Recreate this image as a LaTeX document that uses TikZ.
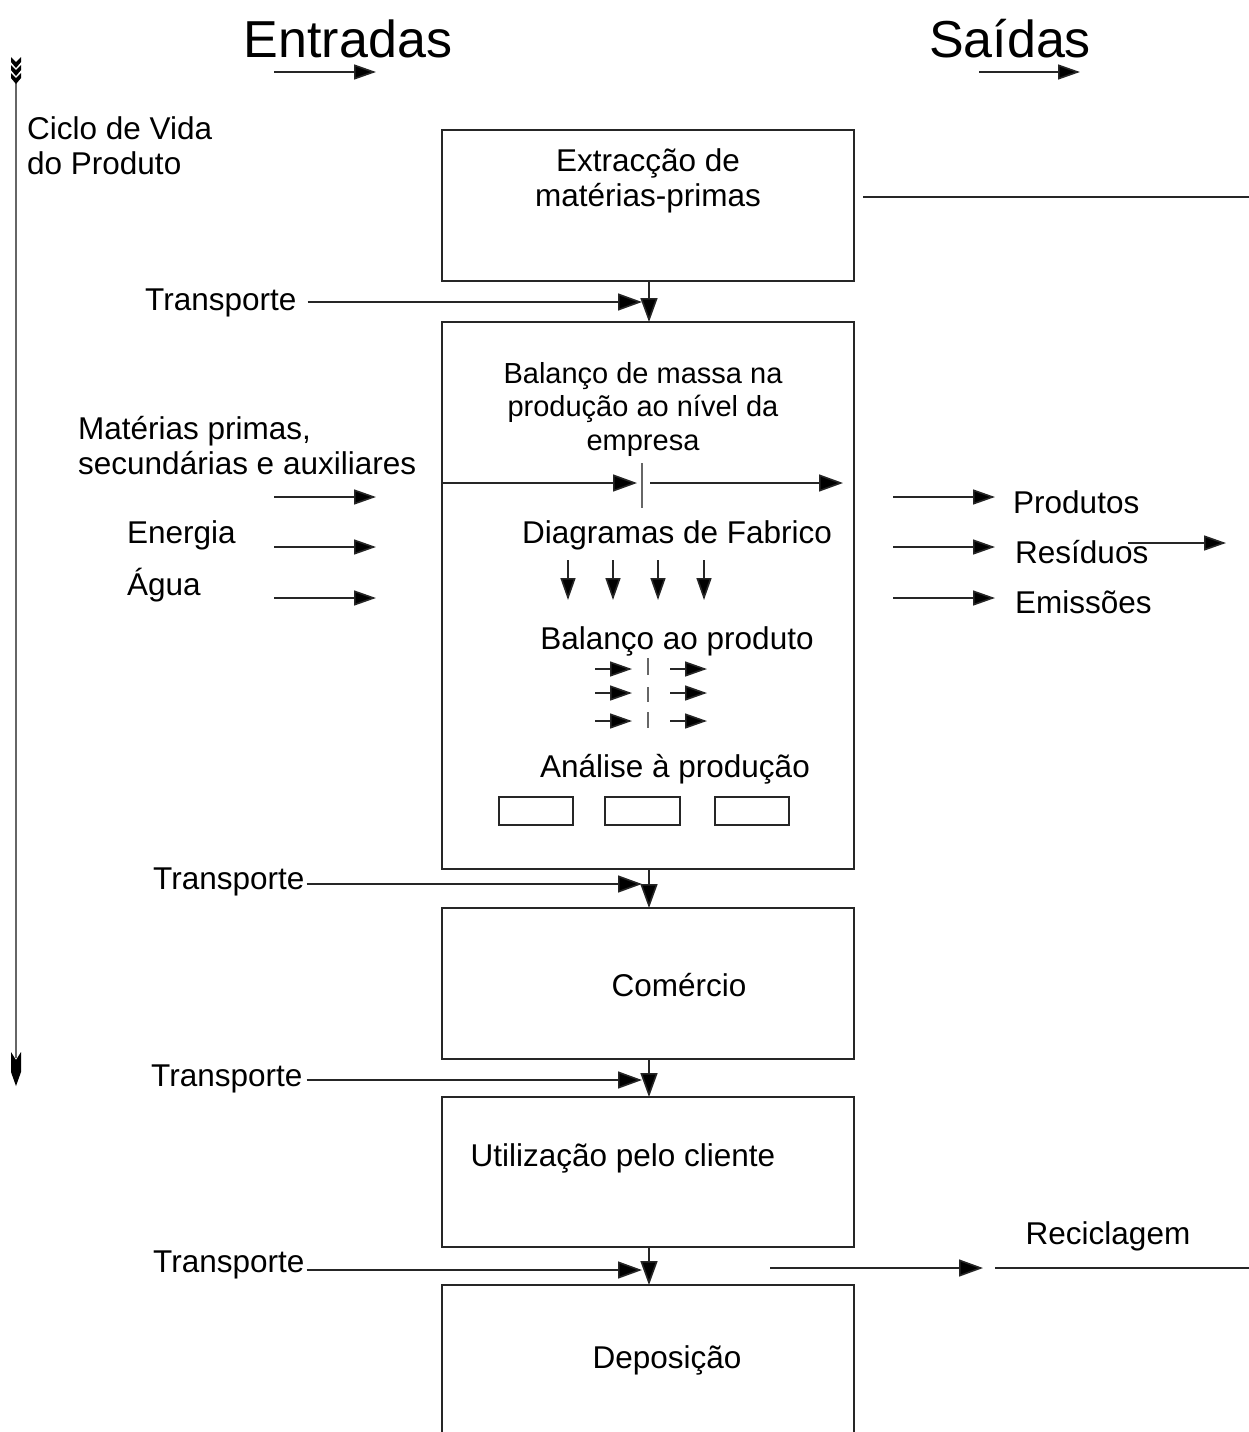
\documentclass[tikz,border=0pt]{standalone}
\usepackage{fontspec}
\setmainfont{Liberation Sans}
\usetikzlibrary{arrows.meta}
\begin{document}
\begin{tikzpicture}[x=1pt,y=-1pt,
  ln/.style={line width=1.6pt, draw=black!85},
  arr/.style={ln, -{Triangle[length=24pt,width=17pt,fill=black]}},
  sarr/.style={ln, -{Triangle[length=22pt,width=15pt,fill=black]}},
  tick/.style={line width=1.6pt, draw=black!60},
  box/.style={ln, rectangle, minimum width=412pt, minimum height=151pt, inner sep=0pt},
  sbox/.style={ln, rectangle, minimum width=74pt, minimum height=28pt, inner sep=0pt},
  txt/.style={font=\fontsize{31.5}{35}\selectfont, inner sep=0pt},
  stxt/.style={font=\fontsize{29}{33.5}\selectfont, inner sep=0pt, align=center},
  big/.style={font=\fontsize{52}{60}\selectfont, inner sep=0pt},
]
\useasboundingbox (0,0) rectangle (1249,1432);

% headings
\node[big] (ent) at (348,39) {Entradas};
\node[big] (sai) at (1010,39) {Saídas};
\coordinate (enta) at (274,72); \coordinate (entb) at (376,72);
\coordinate (saia) at (979,72); \coordinate (saib) at (1080,72);
\draw[sarr] (enta) -- (entb);
\draw[sarr] (saia) -- (saib);

% life-cycle axis
\coordinate (axtop) at (16,80); \coordinate (axbot) at (16,1058);
\draw[tick] (axtop) -- (axbot);
\foreach \y in {57,65,73}
  \fill[black] (11,\y) -- (16,\y+5) -- (21,\y) -- (21,\y+5) -- (16,\y+11) -- (11,\y+5) -- cycle;
\fill[black] (11,1052) -- (16,1060) -- (21,1052) -- (21,1072) -- (16,1086) -- (11,1072) -- cycle;
\node[txt, anchor=west, align=left] (ciclo) at (27,146) {Ciclo de Vida\\do Produto};

% stages
\node[box] (extr) at (648,205.5) {};
\node[txt, align=center] (extrt) at (648,181) {Extracção de\\matérias-primas};
\coordinate (exa) at (863,197); \coordinate (exb) at (1249,197);
\draw[ln] (exa) -- (exb);

\node[box, minimum height=547pt] (prod) at (648,595.5) {};
\node[box] (com) at (648,983.5) {};
\node[txt] (comt) at (679,985) {Comércio};
\node[box, minimum height=150pt] (util) at (648,1172) {};
\node[txt] (utilt) at (623,1158) {Utilização pelo cliente};
\draw[ln] (442,1432) -- (442,1285) -- (854,1285) -- (854,1432);
\coordinate (deptop) at (649,1285);
\node[txt] (dept) at (667,1360) {Deposição};

% transport between stages
\coordinate (e1) at (649,281); \coordinate (p1) at (649,322);
\coordinate (e2) at (649,869); \coordinate (p2) at (649,908);
\coordinate (e3) at (649,1059); \coordinate (p3) at (649,1097);
\coordinate (e4) at (649,1247);
\draw[arr] (e1) -- (p1);
\draw[arr] (e2) -- (p2);
\draw[arr] (e3) -- (p3);
\draw[arr] (e4) -- (deptop);

\node[txt, anchor=west] (tr1) at (145,303) {Transporte};
\node[txt, anchor=west] (tr2) at (153,882) {Transporte};
\node[txt, anchor=west] (tr3) at (151,1079) {Transporte};
\node[txt, anchor=west] (tr4) at (153,1265) {Transporte};
\coordinate (t1) at (642,302); \coordinate (t2) at (642,884);
\coordinate (t3) at (642,1080); \coordinate (t4) at (642,1270);
\draw[arr] ([shift={(11,-1)}]tr1.east) -- (t1);
\draw[arr] ([shift={(2,2)}]tr2.east) -- (t2);
\draw[arr] ([shift={(4,1)}]tr3.east) -- (t3);
\draw[arr] ([shift={(2,5)}]tr4.east) -- (t4);

% production detail
\node[stxt] (bal) at (643,409) {Balanço de massa na\\produção ao nível da\\empresa};
\coordinate (b1) at (442,483); \coordinate (b2) at (637,483);
\coordinate (b3) at (650,483); \coordinate (b4) at (843,483);
\draw[arr] (b1) -- (b2);
\draw[tick] (642,463) -- (642,508);
\draw[arr] (b3) -- (b4);

\node[txt] (diag) at (677,535) {Diagramas de Fabrico};
\foreach \x in {568,613,658,704}
  \draw[sarr] (\x,560) -- (\x,600);

\node[txt] (balp) at (677,641) {Balanço ao produto};
\foreach \y/\a/\b in {669/658/675, 693/687/702, 721/712/728} {
  \draw[sarr] (595,\y) -- (632,\y);
  \draw[tick] (648,\a) -- (648,\b);
  \draw[sarr] (670,\y) -- (707,\y);
}

\node[txt] (anal) at (675,769) {Análise à produção};
\node[sbox] (sb1) at (536,811) {};
\node[sbox, minimum width=75pt] (sb2) at (642.5,811) {};
\node[sbox] (sb3) at (752,811) {};

% inputs
\node[txt, anchor=west, align=left] (mat) at (78,446) {Matérias primas,\\secundárias e auxiliares};
\node[txt, anchor=west] (ener) at (127,535) {Energia};
\node[txt, anchor=west] (agua) at (127,585) {Água};
\foreach \y in {497,547,598}
  \draw[sarr] (274,\y) -- (376,\y);

% outputs
\foreach \y in {497,547,598}
  \draw[sarr] (893,\y) -- (995,\y);
\node[txt, anchor=west] (prd) at (1013,502) {Produtos};
\node[txt, anchor=west] (res) at (1015,552) {Resíduos};
\node[txt, anchor=west] (emi) at (1015,602) {Emissões};
\coordinate (r1) at (1128,543); \coordinate (r2) at (1226,543);
\draw[sarr] (r1) -- (r2);

% recycling
\coordinate (rc1) at (770,1268); \coordinate (rc2) at (983,1268);
\coordinate (rc3) at (995,1268); \coordinate (rc4) at (1249,1268);
\draw[arr] (rc1) -- (rc2);
\draw[ln] (rc3) -- (rc4);
\node[txt] (recl) at (1108,1236) {Reciclagem};
\end{tikzpicture}
\end{document}
